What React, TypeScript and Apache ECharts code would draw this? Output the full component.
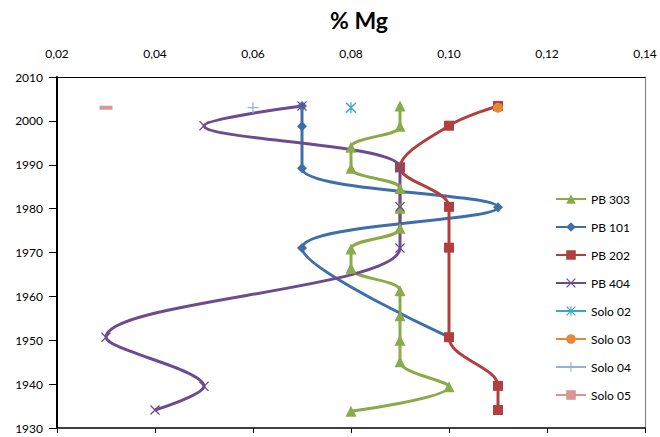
import React, { useEffect, useRef } from "react";
import * as echarts from "echarts";

// Sample years (age model) and magnesium content (%) per core
const pb303Years = [2003.4, 1998.8, 1994.0, 1989.2, 1984.6, 1980.1, 1975.5, 1970.8, 1966.4, 1961.3, 1955.6, 1950.0, 1945.1, 1939.4, 1933.8];
const pb303Mg = [0.09, 0.09, 0.08, 0.08, 0.09, 0.09, 0.09, 0.08, 0.08, 0.09, 0.09, 0.09, 0.09, 0.10, 0.08];

const pb101Years = [2003.4, 1998.8, 1989.2, 1980.3, 1971.0, 1950.7];
const pb101Mg = [0.07, 0.07, 0.07, 0.11, 0.07, 0.10];

const pb202Years = [2003.4, 1998.9, 1989.4, 1980.4, 1971.1, 1950.7, 1939.6, 1934.1];
const pb202Mg = [0.11, 0.10, 0.09, 0.10, 0.10, 0.10, 0.11, 0.11];

const pb404Years = [2003.4, 1998.9, 1989.4, 1980.4, 1971.0, 1950.7, 1939.5, 1934.1];
const pb404Mg = [0.07, 0.05, 0.09, 0.09, 0.09, 0.03, 0.05, 0.04];

// Surface soil samples
const soloYear = 2003.0;
const soloNames = ["Solo 02", "Solo 03", "Solo 04", "Solo 05"];
const soloMg = [0.08, 0.11, 0.06, 0.03];

const xTicks = [0.02, 0.04, 0.06, 0.08, 0.1, 0.12, 0.14];

const FONT = "Lato, 'Open Sans', sans-serif";

const X_PATH = "path://M0,0.9 L0.9,0 L5,4.1 L9.1,0 L10,0.9 L5.9,5 L10,9.1 L9.1,10 L5,5.9 L0.9,10 L0,9.1 L4.1,5 Z";
const PLUS_PATH = "path://M4.4,0 H5.6 V4.4 H10 V5.6 H5.6 V10 H4.4 V5.6 H0 V4.4 H4.4 Z";
const STAR_PATH =
  "path://M0,0.9 L0.9,0 L5,4.1 L9.1,0 L10,0.9 L5.9,5 L10,9.1 L9.1,10 L5,5.9 L0.9,10 L0,9.1 L4.1,5 Z M4.45,0 H5.55 V10 H4.45 Z";
const DASH_PATH = "path://M0,0 H13 V4 H0 Z";

const pairs = (xs: number[], ys: number[]) => xs.map((x, i) => [x, ys[i]]);

export default function App() {
  const ref = useRef<HTMLDivElement>(null);

  useEffect(() => {
    document.body.style.margin = "0";
    if (!ref.current) return;
    const chart = echarts.init(ref.current, null, { renderer: "svg" });

    const profile = (name: string, color: string, xs: number[], ys: number[], symbol: string, size: number) => ({
      name,
      type: "line",
      xAxisIndex: 0,
      yAxisIndex: 0,
      data: pairs(xs, ys),
      smooth: 0.35,
      symbol,
      symbolSize: size,
      showAllSymbol: true,
      lineStyle: { color, width: 3 },
      itemStyle: { color },
    });

    const soloColors = ["#3FA6C0", "#E5883A", "#95B3D7", "#D99694"];
    const soloSymbols = [STAR_PATH, "circle", PLUS_PATH, DASH_PATH];
    const soloSizes: any[] = [11, 10, 11, 13];

    const soloSeries = soloNames.map((name, i) => ({
      name,
      type: "line",
      xAxisIndex: 0,
      yAxisIndex: 0,
      data: [[soloMg[i], soloYear]],
      symbol: soloSymbols[i],
      symbolSize: soloSizes[i],
      symbolKeepAspect: true,
      lineStyle: { color: soloColors[i], width: 3 },
      itemStyle: { color: soloColors[i] },
    }));

    chart.setOption({
      animation: false,
      textStyle: { fontFamily: FONT },
      title: {
        text: "% Mg",
        left: 354,
        textAlign: "center",
        top: 3,
        textStyle: { fontFamily: FONT, fontSize: 23, fontWeight: "bold", color: "#000" },
      },
      grid: { left: 57, right: 15, top: 77, bottom: 9, containLabel: false },
      xAxis: [
        {
          type: "value",
          position: "top",
          min: 0.02,
          max: 0.14,
          interval: 0.02,
          axisLine: { show: true, lineStyle: { color: "#000", width: 1.2 } },
          axisTick: { show: false },
          splitLine: { show: false },
          axisLabel: {
            margin: 18,
            fontSize: 12,
            color: "#000",
            fontFamily: FONT,
            formatter: (v: number) => {
              const t = xTicks.find((k) => Math.abs(k - v) < 1e-9);
              return (t ?? v).toFixed(2).replace(".", ",");
            },
          },
        },
        {
          type: "value",
          position: "bottom",
          min: 0.02,
          max: 0.14,
          interval: 0.02,
          axisLine: { show: true, lineStyle: { color: "#000", width: 1.5 } },
          axisTick: { show: true, inside: false, length: 5, lineStyle: { color: "#000", width: 1 } },
          splitLine: { show: false },
          axisLabel: { show: false },
        },
      ],
      yAxis: [
        {
          type: "value",
          min: 1930,
          max: 2010,
          interval: 10,
          axisLine: { show: true, lineStyle: { color: "#000", width: 2 } },
          axisTick: { show: true, inside: false, length: 8, lineStyle: { color: "#000", width: 1 } },
          splitLine: { show: false },
          axisLabel: {
            margin: 14,
            fontSize: 12,
            color: "#000",
            fontFamily: FONT,
            formatter: (v: number) => String(Math.round(v)),
          },
        },
        {
          type: "value",
          position: "right",
          min: 1930,
          max: 2010,
          interval: 10,
          axisLine: { show: true, lineStyle: { color: "#888", width: 1.2 } },
          axisTick: { show: false },
          splitLine: { show: false },
          axisLabel: { show: false },
        },
      ],
      legend: {
        orient: "vertical",
        left: 550,
        top: 188,
        itemWidth: 30,
        itemHeight: 12,
        itemGap: 16,
        textStyle: { fontSize: 12, color: "#000", fontFamily: FONT },
        data: ["PB 303", "PB 101", "PB 202", "PB 404", ...soloNames],
      },
      series: [
        profile("PB 303", "#8BAA4A", pb303Mg, pb303Years, "triangle", 11),
        profile("PB 101", "#3F6FAB", pb101Mg, pb101Years, "diamond", 10),
        profile("PB 202", "#B0403D", pb202Mg, pb202Years, "rect", 10),
        profile("PB 404", "#6C4C8F", pb404Mg, pb404Years, X_PATH, 10),
        ...soloSeries,
      ],
    });

    return () => chart.dispose();
  }, []);

  return <div ref={ref} style={{ width: 660, height: 437 }} />;
}
